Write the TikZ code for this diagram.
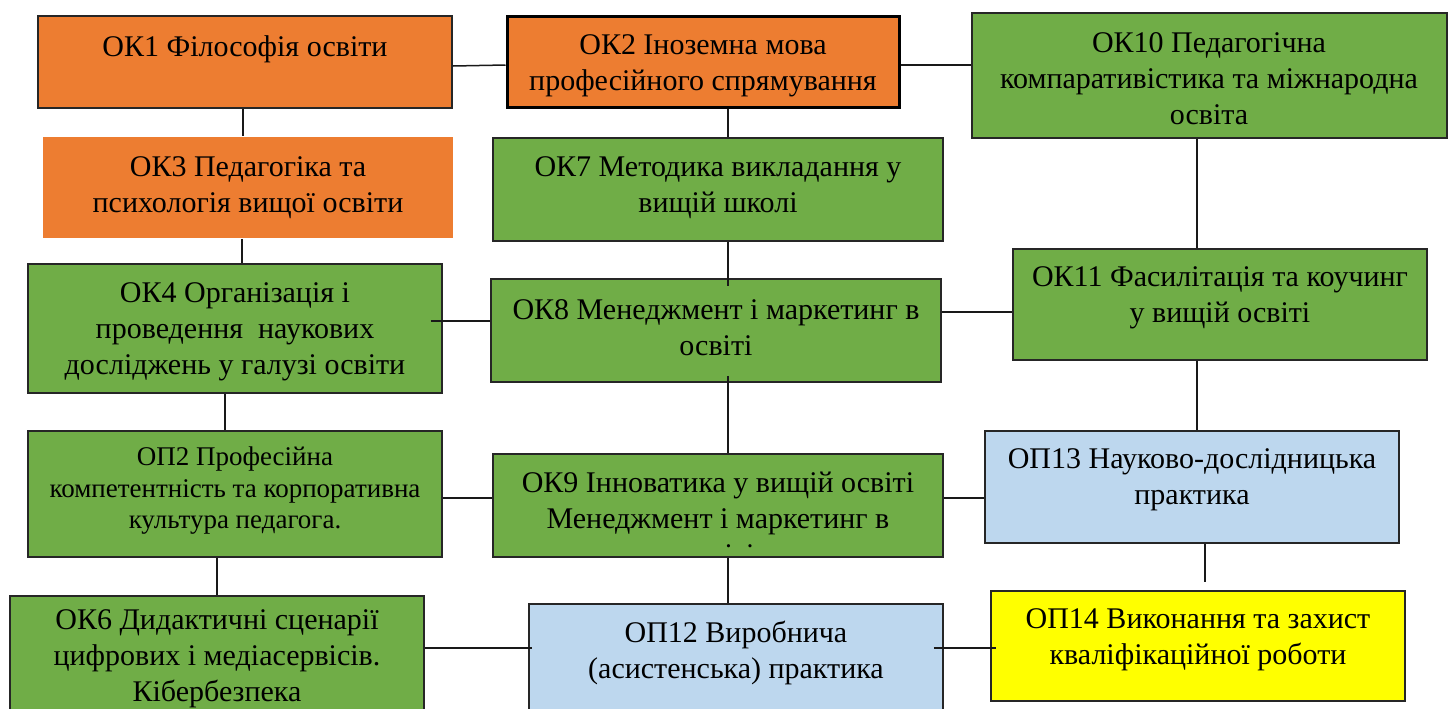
\documentclass[tikz,border=0pt]{standalone}
\usepackage{fontspec}
\setmainfont{Liberation Serif}
\usetikzlibrary{fit,calc}
\definecolor{orng}{HTML}{ED7D31}
\definecolor{grn}{HTML}{70AD47}
\definecolor{lblue}{HTML}{BDD7EE}
\definecolor{ylw}{HTML}{FFFF00}
\definecolor{edge}{HTML}{262626}
\begin{document}
\begin{tikzpicture}[x=0.5pt,y=-0.5pt,
 box/.style={draw=edge, line width=0.75pt, inner sep=0pt, rectangle},
 txt/.style={align=center, font=\fontsize{15}{18}\selectfont, inner sep=0pt},
 stxt/.style={align=center, font=\fontsize{13.5}{15.75}\selectfont, inner sep=0pt},
 conn/.style={draw=black!90, line width=0.75pt}]
\useasboundingbox (0,0) rectangle (1448,708);
\clip (0,0) rectangle (1448,708);

% boxes
\node[box, fill=orng, fit={(38,16) (452,108)}] (ok1) {};
\node[box, fill=orng, draw=black, line width=1.5pt, fit={(507,16) (899,107)}] (ok2) {};
\node[box, fill=grn, fit={(972,13) (1447,138)}] (ok10) {};
\node[box, fill=orng, draw=none, fit={(43,137) (453,238)}] (ok3) {};
\node[box, fill=grn, fit={(493,138) (943,241)}] (ok7) {};
\node[box, fill=grn, fit={(1013,249) (1427,360)}] (ok11) {};
\node[box, fill=grn, fit={(28,264) (442,393)}] (ok4) {};
\node[box, fill=grn, fit={(491,279) (941,382)}] (ok8) {};
\node[box, fill=lblue, fit={(985,431) (1399,543)}] (op13) {};
\node[box, fill=grn, fit={(28,431) (442,557)}] (op2) {};
\node[box, fill=grn, fit={(493,454) (943,557)}] (ok9) {};
\node[box, fill=ylw, fit={(991,591) (1405,701)}] (op14) {};
\node[box, fill=grn, fit={(10,596) (424,730)}] (ok6) {};
\node[box, fill=lblue, fit={(529,604) (943,730)}] (op12) {};

% texts
\node[txt] (ok1t) at (245,49) {ОК1 Філософія освіти};
\node[txt] (ok2t) at (703,66) {ОК2 Іноземна мова\\професійного спрямування};
\node[txt] (ok10t) at (1209,79) {ОК10 Педагогічна\\компаративістика та міжнародна\\освіта};
\node[txt] (ok3t) at (248,187.5) {ОК3 Педагогіка та\\психологія вищої освіти};
\node[txt] (ok7t) at (718,188) {ОК7 Методика викладання у\\вищій школі};
\node[txt] (ok11t) at (1220,298) {ОК11 Фасилітація та коучинг\\у вищій освіті};
\node[txt] (ok4t) at (235,332) {ОК4 Організація і\\проведення~ наукових\\досліджень у галузі освіти};
\node[txt] (ok8t) at (716,328) {ОК8 Менеджмент і маркетинг в\\освіті};
\node[txt] (op13t) at (1192,480) {ОП13 Науково-дослідницька\\практика};
\node[stxt] (op2t) at (235,491) {ОП2 Професійна\\компетентність та корпоративна\\культура педагога.};
\begin{scope}
\clip (493,454) rectangle (943,548);
\node[txt] (ok9t) at (718,518) {ОК9 Інноватика у вищій освіті\\Менеджмент і маркетинг в\\освіті};
\end{scope}
\node[txt] (op14t) at (1198,640) {ОП14 Виконання та захист\\кваліфікаційної роботи};
\node[txt] (ok6t) at (217,659) {ОК6 Дидактичні сценарії\\цифрових і медіасервісів.\\Кібербезпека};
\node[txt] (op12t) at (736,653) {ОП12 Виробнича\\(асистенська) практика};

% connectors
\draw[conn] ([yshift=-2pt]ok1.east) -- ([yshift=-1.75pt]ok2.west);
\draw[conn] ([yshift=-1.75pt]ok2.east) -- ([yshift=-1.75pt]ok2.east -| ok10.west);
\draw[conn] ([xshift=-1pt]ok1.south) -- ([xshift=-1pt]ok1.south |- ok3.north);
\draw[conn] ([xshift=-3pt]ok3.south) -- ([xshift=-3pt]ok3.south |- ok4.north);
\draw[conn] ([xshift=-5pt]ok4.south) -- ([xshift=-5pt]ok4.south |- op2.north);
\draw[conn] ([xshift=-9pt]op2.south) -- ([xshift=-9pt]op2.south |- ok6.north);
\draw[conn] ([xshift=12.5pt]ok2.south) -- ([xshift=12.5pt]ok2.south |- ok7.north);
\draw[conn] ([xshift=5pt]ok7.south) -- ([xshift=5pt,yshift=-4pt]ok7.south |- ok8.north);
\draw[conn] ([xshift=6pt,yshift=3.5pt]ok8.south) -- ([xshift=6pt]ok8.south |- ok9.north);
\draw[conn] ([xshift=5pt]ok9.south) -- ([xshift=5pt]ok9.south |- op12.north);
\draw[conn] ([xshift=-6.25pt]ok10.south) -- ([xshift=-6.25pt]ok10.south |- ok11.north);
\draw[conn] ([xshift=-11.5pt]ok11.south) -- ([xshift=-11.5pt]ok11.south |- op13.north);
\draw[conn] ([xshift=6.5pt]op13.south) -- ([xshift=6.5pt,yshift=4pt]op13.south |- op14.north);
\draw[conn] ([xshift=-6pt,yshift=3.75pt]ok4.east) -- ([yshift=3.75pt]ok4.east -| ok8.west);
\draw[conn] ([yshift=9.25pt]ok8.east) -- ([yshift=9.25pt]ok8.east -| ok11.west);
\draw[conn] ([yshift=-2pt]op2.east) -- ([yshift=-2pt]op2.east -| ok9.west);
\draw[conn] ([yshift=3.75pt]ok9.east) -- ([yshift=3.75pt]ok9.east -| op13.west);
\draw[conn] ([yshift=7.5pt]ok6.east) -- ([xshift=2pt,yshift=7.5pt]ok6.east -| op12.west);
\draw[conn] ([xshift=-5pt,yshift=9.5pt]op12.east) -- ([xshift=3pt,yshift=9.5pt]op12.east -| op14.west);
\end{tikzpicture}
\end{document}
